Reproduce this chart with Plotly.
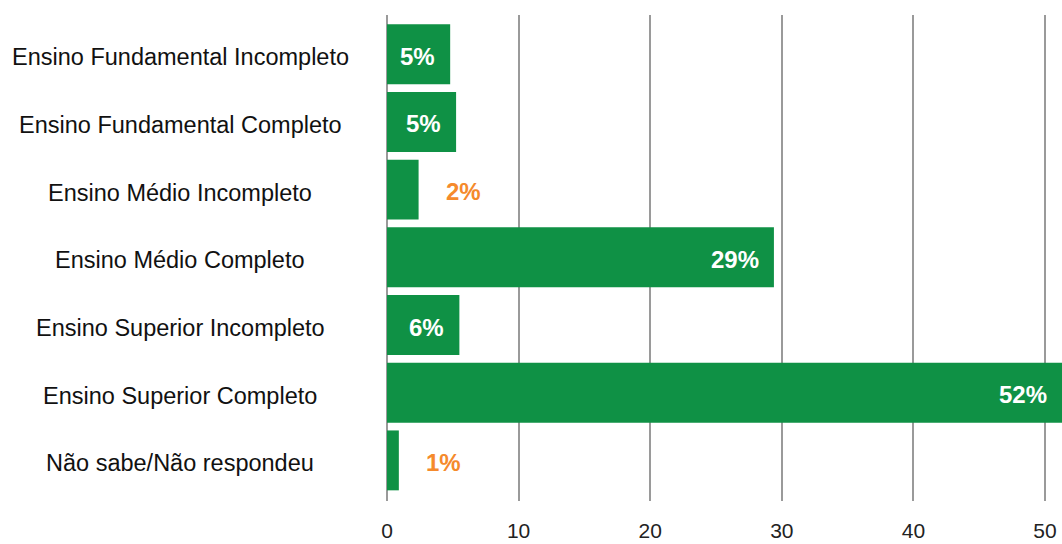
import plotly.graph_objects as go

categories = [
    "Ensino Fundamental Incompleto",
    "Ensino Fundamental Completo",
    "Ensino Médio Incompleto",
    "Ensino Médio Completo",
    "Ensino Superior Incompleto",
    "Ensino Superior Completo",
    "Não sabe/Não respondeu",
]
values = [4.8, 5.25, 2.4, 29.4, 5.5, 51.6, 0.9]
pct_labels = [5, 5, 2, 29, 6, 52, 1]
x_ticks = [0, 10, 20, 30, 40, 50]

GREEN = "#0f9145"
ORANGE = "#f58a2c"
FONT = "Liberation Sans, Arial, sans-serif"

W, H = 1062, 544
ML, MR, MT, MB = 387, 0, 15, 43
XMAX = 51.29

fig = go.Figure()
fig.add_trace(go.Bar(
    x=values, y=categories, orientation="h",
    marker=dict(color=GREEN, line=dict(width=0)),
    width=0.885, hoverinfo="skip",
))

annotations = []
for cat, v, p in zip(categories, values, pct_labels):
    inside = v >= 4
    xv = min(v, XMAX)
    annotations.append(dict(
        x=xv, y=cat, xref="x", yref="y",
        text=f"<b>{p}%</b>", showarrow=False,
        xanchor="right" if inside else "left",
        xshift=-13 if inside else 25, yshift=-2,
        font=dict(family=FONT, size=24, color="white" if inside else ORANGE),
    ))
    annotations.append(dict(
        x=(180 - ML) / (W - ML - MR), y=cat, xref="paper", yref="y",
        text=cat, showarrow=False, xanchor="center", yshift=-3,
        font=dict(family=FONT, size=23.5, color="#111111"),
    ))

fig.update_layout(
    width=W, height=H,
    margin=dict(l=ML, r=MR, t=MT, b=MB, pad=0, autoexpand=False),
    paper_bgcolor="white", plot_bgcolor="white",
    showlegend=False,
    annotations=annotations,
    xaxis=dict(
        range=[0, XMAX], tickvals=x_ticks, ticktext=[str(t) for t in x_ticks],
        showgrid=True, gridcolor="#9a9a9a", gridwidth=1.5,
        zeroline=True, zerolinecolor="#9a9a9a", zerolinewidth=1.5,
        showline=False, ticks="outside", ticklen=11, tickcolor="rgba(0,0,0,0)",
        tickfont=dict(family=FONT, size=21, color="#222222"),
        automargin=False,
    ),
    yaxis=dict(
        range=[6.6, -0.58], showticklabels=False, showgrid=False,
        zeroline=False, showline=False, type="category", automargin=False,
    ),
)

fig.write_html("out.html")
